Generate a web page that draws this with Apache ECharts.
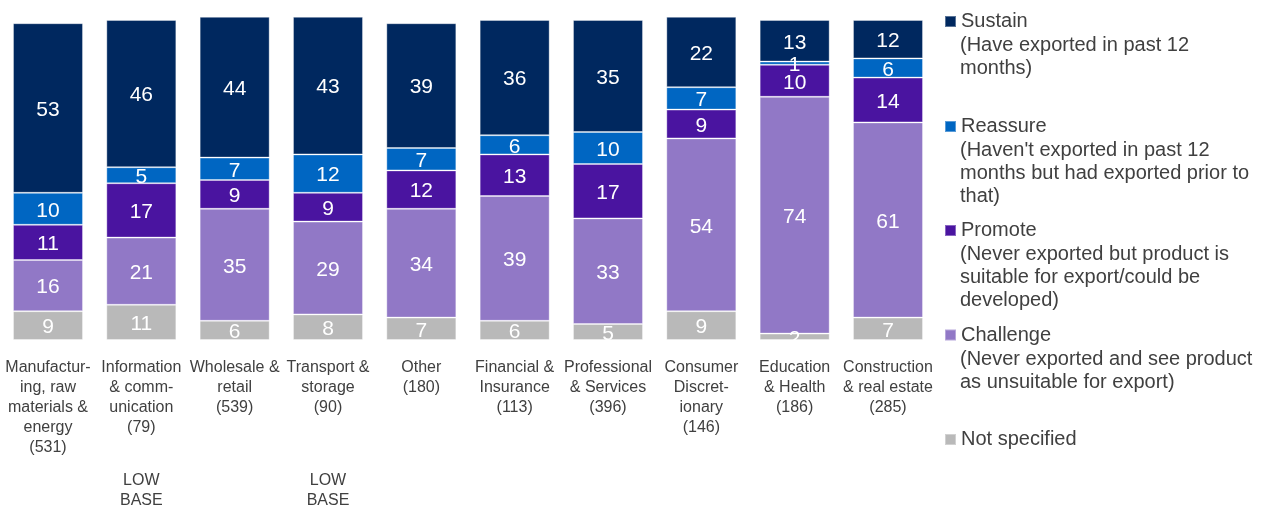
<!DOCTYPE html>
<html>
<head>
<meta charset="utf-8">
<script src="https://cdn.jsdelivr.net/npm/echarts@6/dist/echarts.min.js"></script>
<style>
  html, body { margin: 0; padding: 0; background: #fff; }
  #main { width: 1261px; height: 507px; }
</style>
</head>
<body>
<div id="main"></div>
<script>
// categories (axis labels as printed, with their manual line breaks)
var categories = [
    'Manufactur-\ning, raw\nmaterials &\nenergy\n(531)',
    'Information\n& comm-\nunication\n(79)',
    'Wholesale &\nretail\n(539)',
    'Transport &\nstorage\n(90)',
    'Other\n(180)',
    'Financial &\nInsurance\n(113)',
    'Professional\n& Services\n(396)',
    'Consumer\nDiscret-\nionary\n(146)',
    'Education\n& Health\n(186)',
    'Construction\n& real estate\n(285)'
];
var baseNotes = ['', 'LOW\nBASE', '', 'LOW\nBASE', '', '', '', '', '', ''];

// series values, bottom to top
var notSpecified = [9, 11, 6, 8, 7, 6, 5, 9, 2, 7];
var challenge    = [16, 21, 35, 29, 34, 39, 33, 54, 74, 61];
var promote      = [11, 17, 9, 9, 12, 13, 17, 9, 10, 14];
var reassure     = [10, 5, 7, 12, 7, 6, 10, 7, 1, 6];
var sustain      = [53, 46, 44, 43, 39, 36, 35, 22, 13, 12];

var seriesNames = ['Not specified', 'Challenge', 'Promote', 'Reassure', 'Sustain'];
var seriesData = [notSpecified, challenge, promote, reassure, sustain];
var colors = ['#b9b9b9', '#9178c6', '#4a14a0', '#0066c2', '#00285f'];
var descriptions = {
    'Sustain': '(Have exported in past 12\nmonths)',
    'Reassure': '(Haven\'t exported in past 12\nmonths but had exported prior to\nthat)',
    'Promote': '(Never exported but product is\nsuitable for export/could be\ndeveloped)',
    'Challenge': '(Never exported and see product\nas unsuitable for export)'
};

var myChart = echarts.init(document.getElementById('main'));

var font = 'Liberation Sans, Arial, sans-serif';
var textColor = '#404040';

// legend rows: icon centre y for each entry
var legendRows = [
    { name: 'Sustain', y: 21.5, descY: 33.3 },
    { name: 'Reassure', y: 126.5, descY: 138.3 },
    { name: 'Promote', y: 230.5, descY: 242.3 },
    { name: 'Challenge', y: 335, descY: 347.3 },
    { name: 'Not specified', y: 439.5 }
];

var legends = legendRows.map(function (r) {
    return {
        data: [r.name],
        left: 944,
        top: r.y - 10,
        padding: 0,
        itemWidth: 11,
        itemHeight: 11,
        icon: 'rect',
        selectedMode: false,
        textStyle: { fontFamily: font, fontSize: 20, lineHeight: 20, color: textColor, padding: [0, 0, 0, 0] }
    };
});

var graphics = legendRows.filter(function (r) { return descriptions[r.name]; }).map(function (r) {
    return {
        type: 'text',
        left: 960,
        top: r.descY,
        style: {
            text: descriptions[r.name],
            fontFamily: font,
            fontSize: 20,
            lineHeight: 23.4,
            fill: textColor
        }
    };
});

var series = seriesNames.map(function (name, i) {
    return {
        name: name,
        type: 'bar',
        stack: 'total',
        clip: false,
        barWidth: '75%',
        data: seriesData[i],
        itemStyle: {
            color: colors[i],
            borderColor: 'rgba(255,255,255,0.35)',
            borderWidth: 1
        },
        label: {
            show: true,
            position: 'inside',
            offset: [0, 2],
            color: '#fff',
            fontFamily: font,
            fontSize: 21
        },
        emphasis: { disabled: true }
    };
});

var option = {
    animation: false,
    backgroundColor: '#fff',
    legend: legends,
    graphic: graphics,
    grid: { left: 1.33, top: 20, width: 933.33, height: 320, containLabel: false, outerBoundsMode: 'none' },
    xAxis: [{
        type: 'category',
        data: categories,
        axisLine: { show: false },
        axisTick: { show: false },
        axisLabel: {
            interval: 0,
            margin: 18,
            fontFamily: font,
            fontSize: 16,
            lineHeight: 20,
            color: textColor,
            verticalAlign: 'top'
        }
    }, {
        type: 'category',
        position: 'bottom',
        data: categories,
        axisLine: { show: false },
        axisTick: { show: false },
        axisLabel: {
            interval: 0,
            margin: 131,
            fontFamily: font,
            fontSize: 16,
            lineHeight: 20,
            color: textColor,
            verticalAlign: 'top',
            formatter: function (v, idx) { return baseNotes[idx]; }
        }
    }],
    yAxis: {
        type: 'value',
        min: 0,
        max: 100,
        show: false,
        splitLine: { show: false }
    },
    series: series
};

myChart.setOption(option);
</script>
</body>
</html>
